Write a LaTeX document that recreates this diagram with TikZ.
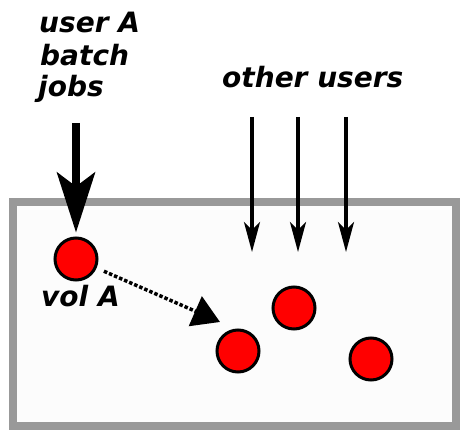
\documentclass[tikz,border=0pt]{standalone}
\usepackage{fontspec}
\setmainfont{DejaVu Sans}
\usetikzlibrary{arrows.meta}
\definecolor{boxgray}{HTML}{999999}
\definecolor{boxfill}{HTML}{FCFCFC}
\definecolor{volred}{HTML}{FF0000}
\tikzset{
  lbl/.style={anchor=base west, inner sep=0pt, font=\fontsize{28}{32}\selectfont\bfseries\itshape},
  vol/.style={circle, fill=volred, draw=black, line width=3pt, minimum size=42pt, inner sep=0pt},
  bigarrow/.style={line width=7.5pt, -{Stealth[length=60pt,width=38pt,inset=14pt]}},
  userarrow/.style={line width=3.5pt, -{Stealth[length=30pt,width=16pt,inset=8pt]}},
  movearrow/.style={line width=3.5pt, dotted, -{Triangle[length=27pt,width=32pt]}},
}
\begin{document}
\begin{tikzpicture}[x=1pt,y=-1pt]
\useasboundingbox (0,0) rectangle (460,430);
\draw[boxgray, fill=boxfill, line width=8.5pt] (13,202) rectangle (456,426);
% labels
\node[lbl] (ua1) at (39,33) {user A};
\node[lbl] (ua2) at (40,66) {batch};
\node[lbl] (ua3) at (38,97) {jobs};
\node[lbl] (ou) at (222,88) {other users};
\node[lbl] (va) at (41,306) {vol A};
% volumes
\node[vol] (a) at (76,259) {};
\node[vol] (b) at (238,351) {};
\node[vol] (c) at (294,308) {};
\node[vol] (d) at (371,359) {};
% user A arrow
\coordinate (uas) at (76,123);
\draw[bigarrow, shorten >=4pt] (uas) -- (a.north);
% other users arrows
\coordinate (o1s) at (252,117); \coordinate (o1e) at (252,252);
\coordinate (o2s) at (298,117); \coordinate (o2e) at (298,252);
\coordinate (o3s) at (346,117); \coordinate (o3e) at (346,252);
\draw[userarrow] (o1s) -- (o1e);
\draw[userarrow] (o2s) -- (o2e);
\draw[userarrow] (o3s) -- (o3e);
% move arrow
\coordinate (mt) at (220,322);
\draw[movearrow, shorten <=8pt] (a) -- (mt);
\end{tikzpicture}
\end{document}
